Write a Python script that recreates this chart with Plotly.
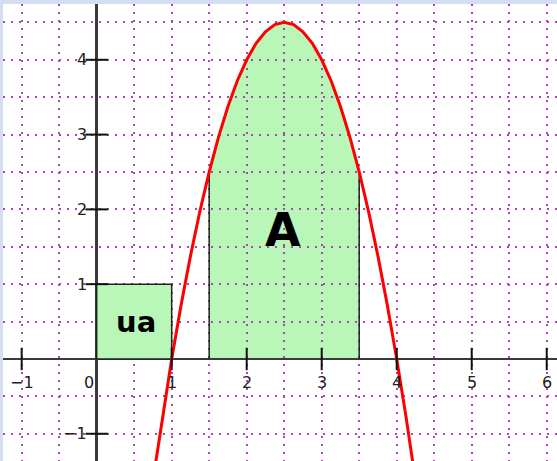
import plotly.graph_objects as go

# ---- data ----
curve_x = [0.75, 0.875, 1.0, 1.125, 1.25, 1.375, 1.5, 1.625, 1.75, 1.875, 2.0, 2.125, 2.25, 2.375, 2.5,
           2.625, 2.75, 2.875, 3.0, 3.125, 3.25, 3.375, 3.5, 3.625, 3.75, 3.875, 4.0, 4.125, 4.25]
curve_y = [-1.625, -0.78, 0.0, 0.72, 1.375, 1.97, 2.5, 2.97, 3.375, 3.72, 4.0, 4.22, 4.375, 4.47, 4.5,
           4.47, 4.375, 4.22, 4.0, 3.72, 3.375, 2.97, 2.5, 1.97, 1.375, 0.72, 0.0, -0.78, -1.625]
area_from = 1.5
area_to = 3.5
unit_x = [0, 0, 1, 1, 0]
unit_y = [0, 1, 1, 0, 0]
x_ticks = [-1, 1, 2, 3, 4, 5, 6]
x_tick_labels = ["\u22121", "0", "1", "2", "3", "4", "5", "6"]
x_label_pos = [-1, 0, 1, 2, 3, 4, 5, 6]
y_ticks = [-1, 1, 2, 3, 4]
y_tick_labels = ["\u22121", "1", "2", "3", "4"]
area_label = "A"
unit_label = "ua"

GREEN = "#b9f7b9"
GRID = "#a848b0"
AXIS = "#3a3a3a"

fig = go.Figure()

# area A as a shape under the grid (the dotted grid shows through it)
ax = [x for x in curve_x if area_from <= x <= area_to]
ay = [y for x, y in zip(curve_x, curve_y) if area_from <= x <= area_to]
path = f"M {ax[0]},0 " + " ".join(f"L {x},{y}" for x, y in zip(ax, ay)) + f" L {ax[-1]},0 Z"
fig.add_shape(type="path", path=path, xref="x", yref="y", layer="below",
              fillcolor=GREEN, line=dict(width=0))

# unit square (opaque)
fig.add_trace(go.Scatter(x=unit_x, y=unit_y, mode="lines", fill="toself", fillcolor=GREEN,
                         line=dict(color="#222", width=1.5), hoverinfo="skip", showlegend=False))

# vertical edges of area A
fig.add_trace(go.Scatter(x=[ax[0], ax[0], None, ax[-1], ax[-1]], y=[0, ay[0], None, 0, ay[-1]],
                         mode="lines", line=dict(color="#222", width=1.5),
                         hoverinfo="skip", showlegend=False))

# parabola
fig.add_trace(go.Scatter(x=curve_x, y=curve_y, mode="lines", line=dict(color="#ff0000", width=3),
                         showlegend=False))

# crossing tick marks
fig.add_trace(go.Scatter(x=x_ticks, y=[0] * len(x_ticks), mode="markers",
                         marker=dict(symbol="line-ns", size=16, line=dict(color="#111", width=2)),
                         hoverinfo="skip", showlegend=False))
fig.add_trace(go.Scatter(x=[0] * len(y_ticks), y=y_ticks, mode="markers",
                         marker=dict(symbol="line-ew", size=16, line=dict(color="#111", width=2)),
                         hoverinfo="skip", showlegend=False))

lab_font = dict(family="DejaVu Sans", size=16, color="#222")
for v, t in zip(x_label_pos, x_tick_labels):
    fig.add_annotation(x=v, y=0, text=t, showarrow=False, font=lab_font,
                       xanchor="center", yanchor="middle", yshift=-24,
                       xshift=(-8 if v == 0 else 0))
for v, t in zip(y_ticks, y_tick_labels):
    fig.add_annotation(x=0, y=v, text=t, showarrow=False, font=lab_font,
                       xanchor="right", yanchor="middle", xshift=-8)

fig.add_annotation(x=0.52, y=0.5, text=f"<b>{unit_label}</b>", showarrow=False,
                   font=dict(family="DejaVu Sans", size=29, color="#000"))
fig.add_annotation(x=2.49, y=1.72, text=f"<b>{area_label}</b>", showarrow=False,
                   font=dict(family="DejaVu Sans", size=46, color="#000"))

fig.update_xaxes(range=[-1.249, 6.137], dtick=0.5, tick0=0, showgrid=True, gridcolor=GRID,
                 gridwidth=2, griddash="2px,6px", zeroline=True, zerolinecolor=AXIS,
                 zerolinewidth=2.5, showticklabels=False, ticks="", showline=False, fixedrange=True)
fig.update_yaxes(range=[-1.364, 4.746], dtick=0.5, tick0=0, showgrid=True, gridcolor=GRID,
                 gridwidth=2, griddash="2px,6px", zeroline=True, zerolinecolor=AXIS,
                 zerolinewidth=2, showticklabels=False, ticks="", showline=False, fixedrange=True)

fig.update_layout(width=557, height=461, margin=dict(l=3, r=0, t=4, b=0),
                  paper_bgcolor="#d3def0", plot_bgcolor="#ffffff", showlegend=False)

fig.write_html("out.html", config={"displayModeBar": False},
               post_script="document.body.style.margin='0';document.body.style.overflow='hidden';")
